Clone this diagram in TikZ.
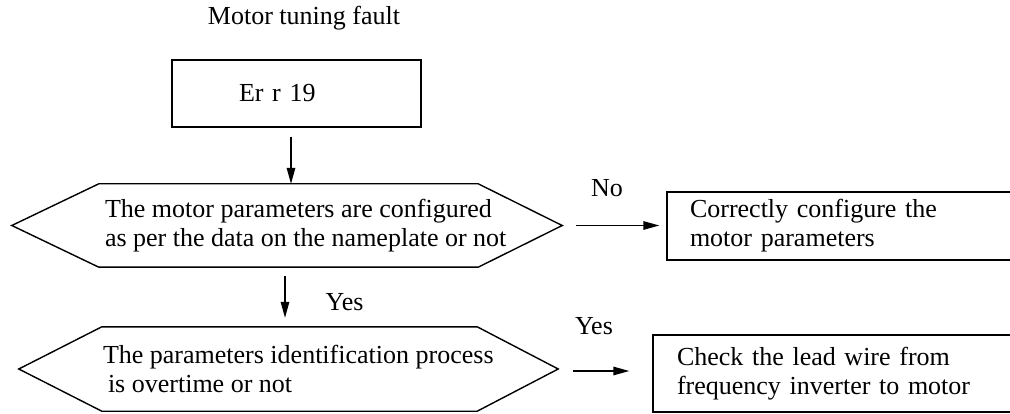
\documentclass[tikz,border=0pt]{standalone}
\usepackage{fontspec}
\setmainfont{Liberation Serif}
\usetikzlibrary{arrows.meta,positioning}

\begin{document}
\begin{tikzpicture}[x=1pt, y=-1pt,
  font=\fontsize{26}{29}\selectfont,
  box/.style={draw, line width=1.4pt, align=left, inner ysep=0pt},
  hexframe/.style={inner sep=0pt},
  hexline/.style={line width=1.4pt, line join=miter},
  txt/.style={align=left, inner sep=0pt},
  lbl/.style={inner sep=0pt},
  arr/.style={-{Triangle[length=16pt, width=8.5pt]}, line width=1.4pt},
]
\useasboundingbox (0,0) rectangle (1010,414);
\clip (0,0) rectangle (1010,414);
% title and fault code
\node[anchor=base] (title) at (304,25) {Motor tuning fault};
\node[box, minimum width=249pt, minimum height=67pt, inner xsep=67pt,
  text width=115pt] (err) at (296.5,93.5) {Er r 19};
% first check
\node[hexframe, minimum width=550pt, minimum height=83pt] (q1) at (287,225.5) {};
\draw[hexline] (q1.west) -- ([xshift=87pt]q1.north west)
  -- ([xshift=-84pt]q1.north east) -- (q1.east)
  -- ([xshift=-84pt]q1.south east) -- ([xshift=87pt]q1.south west) -- cycle;
\node[txt, anchor=west] (q1text) at ([xshift=93pt]q1.west)
  {The motor parameters are configured\\as per the data on the nameplate or not};
% second check
\node[hexframe, minimum width=539pt, minimum height=84pt] (q2) at (288.5,369) {};
\draw[hexline] (q2.west) -- ([xshift=83pt]q2.north west)
  -- ([xshift=-81pt]q2.north east) -- (q2.east)
  -- ([xshift=-81pt]q2.south east) -- ([xshift=83pt]q2.south west) -- cycle;
\node[txt, anchor=west] (q2text) at ([xshift=84pt]q2.west)
  {The parameters identification process\\\hspace{5pt}is overtime or not};
% actions (open to the right)
\node[box, minimum width=353pt, minimum height=68pt, inner xsep=23pt,
  text width=307pt] (act1) at (843.5,226) {Correctly configure the\\motor parameters};
\node[box, minimum width=367pt, minimum height=77pt, inner xsep=24pt,
  text width=319pt] (act2) at (836.5,373.5) {Check the lead wire from\\frequency inverter to motor};
% connectors
\draw[arr, shorten <=9pt] ([xshift=-5.5pt]err.south) -- ([xshift=-5.5pt]err.south |- q1.north);
\draw[arr, shorten <=9pt, shorten >=9pt] ([xshift=-2pt]q1.south) -- ([xshift=-2pt]q1.south |- q2.north)
  node[lbl, midway, right=40pt, yshift=-5pt] (yes1) {Yes};
\draw[arr, shorten <=14pt, shorten >=7pt] (q1.east) -- (q1.east -| act1.west)
  node[lbl, pos=0.43, above=28pt] (no1) {No};
\draw[arr, shorten <=15pt, shorten >=23pt] ([yshift=-2pt]q2.east) -- ([yshift=-2pt]q2.east -| act2.west)
  node[lbl, pos=0.38, above=36pt] (yes2) {Yes};
\end{tikzpicture}
\end{document}
